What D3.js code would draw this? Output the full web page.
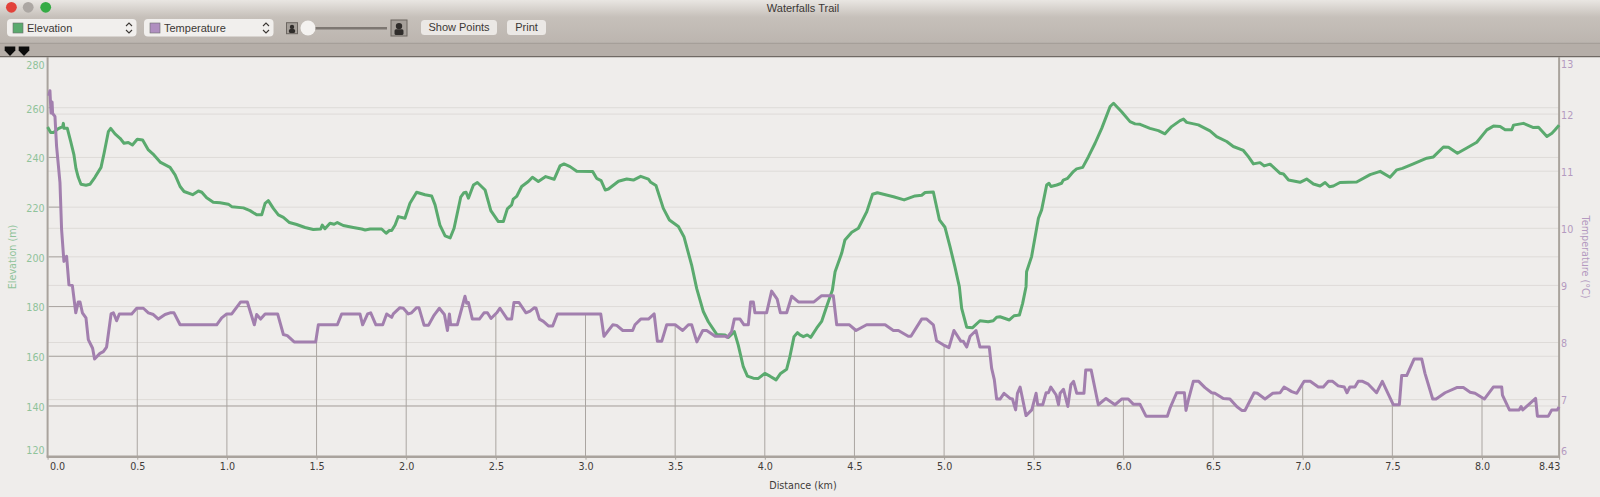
<html><head>
<script src="https://d3js.org/d3.v7.min.js"></script>
<style>
body { margin: 0; background: #efedeb; overflow: hidden; }
text { font-family: "DejaVu Sans", sans-serif; }
.ui { font-family: "Liberation Sans", sans-serif; font-size: 11px; fill: #3c3835; }
</style>
</head>
<body>
<svg id="graph" width="1600" height="497"></svg>
<script>
const distanceTicks = [0, 0.5, 1, 1.5, 2, 2.5, 3, 3.5, 4, 4.5, 5, 5.5, 6, 6.5, 7, 7.5, 8, 8.43];
const distanceLabels = ["0.0", "0.5", "1.0", "1.5", "2.0", "2.5", "3.0", "3.5", "4.0", "4.5", "5.0", "5.5", "6.0", "6.5", "7.0", "7.5", "8.0", "8.43"];
const elevationTicks = [120, 140, 160, 180, 200, 220, 240, 260, 280];
const temperatureTicks = [6, 7, 8, 9, 10, 11, 12, 13];

// [km, metres]
const elevation = [[0,252.2],[0.017,250],[0.032,250],[0.06,251.6],[0.084,252.4],[0.088,253.7],[0.091,251.7],[0.11,251.7],[0.129,246.4],[0.147,241],[0.158,235.6],[0.171,232],[0.186,229.2],[0.214,228.8],[0.236,229.2],[0.264,232],[0.298,236],[0.315,241.7],[0.339,250.4],[0.352,251.7],[0.376,249.5],[0.404,247.7],[0.426,245.7],[0.45,246],[0.473,245],[0.5,247.3],[0.53,247],[0.562,243],[0.593,241],[0.63,238],[0.683,236],[0.711,233],[0.739,228.3],[0.761,226.3],[0.809,225],[0.841,226.5],[0.86,226],[0.887,223.8],[0.924,222],[0.962,221.8],[1.008,221.2],[1.027,220.2],[1.092,219.7],[1.129,218.6],[1.166,216.9],[1.194,216.9],[1.213,221.5],[1.231,222.6],[1.259,219.5],[1.287,216.9],[1.315,215.9],[1.349,213.8],[1.389,213],[1.436,211.8],[1.482,211],[1.523,211.2],[1.532,212.8],[1.547,211.3],[1.575,213.5],[1.598,213.1],[1.616,213.8],[1.649,212.6],[1.705,211.8],[1.752,211.2],[1.771,210.8],[1.799,211.2],[1.863,211.2],[1.888,209.5],[1.906,210.6],[1.919,210.6],[1.938,212.8],[1.956,216.2],
[1.993,215.5],[2.021,221.6],[2.058,226],[2.105,225],[2.142,224.5],[2.161,220.9],[2.188,212.8],[2.217,208.4],[2.245,207.6],[2.267,211.5],[2.304,224],[2.322,225.8],[2.334,226],[2.347,223.6],[2.375,228.9],[2.397,229.9],[2.44,226.9],[2.472,218.6],[2.514,214.2],[2.542,214.2],[2.564,219.3],[2.588,220.9],[2.597,223.2],[2.616,224.3],[2.644,228.3],[2.681,230.3],[2.704,232],[2.737,230.3],[2.778,232.3],[2.825,231.2],[2.858,236.6],[2.88,237.4],[2.914,236.3],[2.951,234.4],[3.04,234.3],[3.062,231.6],[3.087,230.7],[3.11,226.9],[3.128,227.3],[3.184,230.4],[3.23,231.3],[3.267,230.9],[3.308,232.4],[3.351,231.3],[3.364,230],[3.393,228.7],[3.434,219.5],[3.468,214.8],[3.518,212.2],[3.549,208.1],[3.592,196.7],[3.62,187.3],[3.657,178],[3.685,173.9],[3.732,168.8],[3.778,168.6],[3.797,167.6],[3.83,169.9],[3.852,164.5],[3.88,155.8],[3.903,152],[3.936,151.2],[3.964,151.1],[4,153.1],[4.029,152],[4.063,150.5],[4.088,153.1],[4.122,154.8],[4.14,159.9],[4.163,167.9],[4.182,169.5],
[4.196,168.6],[4.215,167.9],[4.237,168.6],[4.256,167.6],[4.289,171.3],[4.317,174],[4.345,180],[4.377,186.7],[4.392,194],[4.429,201.5],[4.447,206.8],[4.485,209.9],[4.522,211.5],[4.569,218.2],[4.601,225.2],[4.628,225.8],[4.718,224.2],[4.777,222.9],[4.838,224.5],[4.875,224.8],[4.894,225.9],[4.94,226.1],[4.974,214.9],[5.005,211.9],[5.033,204.1],[5.06,196.1],[5.085,188],[5.098,179.3],[5.126,171.7],[5.159,171.5],[5.2,174.3],[5.246,173.9],[5.274,174.3],[5.293,175.7],[5.312,175.9],[5.364,174.6],[5.39,176.3],[5.42,176.6],[5.438,181.3],[5.457,188],[5.46,194],[5.488,200.1],[5.526,215.5],[5.544,218.9],[5.572,228.9],[5.585,229.6],[5.596,228.3],[5.628,228.9],[5.655,229.6],[5.665,230.9],[5.689,231.6],[5.721,234.3],[5.739,235.4],[5.773,236],[5.805,240.3],[5.842,245.7],[5.879,251.7],[5.926,260.5],[5.945,261.8],[5.99,258.4],[6.037,254.4],[6.065,253.5],[6.093,253.3],[6.148,251.7],[6.195,250.8],[6.232,249.5],[6.269,252.4],[6.316,254.8],[6.335,255.4],[6.353,254.1],[6.418,253.1],
[6.483,250.7],[6.52,248.4],[6.576,246.4],[6.613,244.4],[6.669,242.8],[6.697,240.3],[6.725,237.4],[6.762,237.9],[6.785,236.6],[6.818,237.3],[6.874,233.6],[6.893,233.3],[6.921,230.9],[6.985,230],[7.022,231.3],[7.06,229.3],[7.097,228.5],[7.125,229.9],[7.149,228.2],[7.171,228.5],[7.208,229.9],[7.301,230.1],[7.376,233.1],[7.432,234.4],[7.487,232],[7.525,235],[7.556,235.6],[7.617,237.4],[7.692,239.7],[7.729,240.2],[7.785,244.2],[7.813,244.1],[7.863,241.7],[7.915,243.8],[7.971,246.1],[8.027,251.1],[8.064,252.6],[8.101,252.4],[8.129,251.1],[8.166,251.1],[8.176,253],[8.231,253.7],[8.287,252],[8.315,252.1],[8.362,248.4],[8.39,249.7],[8.408,251.1],[8.43,253]];

// [km, degrees C]
const temperature = [[0.006,12.32],[0.013,12.41],[0.019,12.02],[0.025,12.21],[0.028,12.01],[0.041,11.96],[0.05,11.44],[0.069,10.8],[0.078,9.98],[0.091,9.42],[0.106,9.51],[0.119,9.01],[0.138,9],[0.157,8.52],[0.171,8.71],[0.181,8.71],[0.194,8.52],[0.214,8.43],[0.227,8.05],[0.251,7.9],[0.262,7.71],[0.292,7.81],[0.311,7.84],[0.329,7.92],[0.354,8.5],[0.367,8.52],[0.385,8.38],[0.4,8.5],[0.469,8.5],[0.497,8.6],[0.534,8.6],[0.562,8.52],[0.59,8.49],[0.618,8.41],[0.655,8.49],[0.683,8.52],[0.705,8.52],[0.739,8.31],[0.943,8.31],[0.971,8.43],[0.999,8.5],[1.027,8.5],[1.077,8.71],[1.114,8.71],[1.153,8.31],[1.166,8.49],[1.188,8.41],[1.213,8.5],[1.283,8.5],[1.315,8.14],[1.337,8.12],[1.375,8.01],[1.495,8.01],[1.51,8.31],[1.616,8.31],[1.64,8.5],[1.742,8.5],[1.757,8.31],[1.785,8.5],[1.802,8.52],[1.831,8.31],[1.869,8.31],[1.891,8.5],[1.919,8.44],[1.928,8.5],
[1.965,8.61],[1.984,8.6],[2.012,8.5],[2.03,8.52],[2.058,8.61],[2.071,8.61],[2.1,8.3],[2.124,8.3],[2.152,8.46],[2.161,8.5],[2.185,8.6],[2.213,8.49],[2.23,8.21],[2.241,8.5],[2.248,8.31],[2.285,8.31],[2.328,8.81],[2.337,8.69],[2.347,8.7],[2.369,8.41],[2.408,8.41],[2.434,8.52],[2.453,8.52],[2.473,8.42],[2.505,8.52],[2.523,8.6],[2.564,8.41],[2.588,8.41],[2.601,8.7],[2.629,8.7],[2.668,8.52],[2.691,8.55],[2.715,8.61],[2.724,8.6],[2.743,8.41],[2.765,8.37],[2.793,8.29],[2.817,8.29],[2.843,8.5],[3.085,8.5],[3.103,8.11],[3.152,8.31],[3.174,8.3],[3.208,8.21],[3.263,8.21],[3.276,8.31],[3.308,8.41],[3.351,8.41],[3.383,8.5],[3.401,8.02],[3.425,8.02],[3.453,8.31],[3.5,8.31],[3.542,8.21],[3.574,8.31],[3.592,8.31],[3.621,8.01],[3.654,8.21],[3.676,8.21],[3.723,8.11],[3.778,8.11],[3.791,8.09],[3.815,8.19],[3.83,8.41],[3.862,8.41],[3.884,8.31],[3.908,8.31],[3.921,8.71],[3.936,8.71],[3.945,8.52],[4.01,8.52],[4.038,8.9],[4.069,8.76],[4.087,8.52],[4.122,8.52],[4.15,8.81],[4.187,8.71],
[4.274,8.71],[4.317,8.82],[4.382,8.82],[4.401,8.31],[4.472,8.31],[4.509,8.21],[4.568,8.31],[4.671,8.31],[4.717,8.21],[4.745,8.21],[4.8,8.11],[4.815,8.11],[4.875,8.41],[4.903,8.41],[4.94,8.31],[4.958,8.03],[4.995,7.96],[5.027,7.91],[5.055,8.21],[5.094,8.02],[5.107,8.02],[5.126,7.92],[5.145,8.11],[5.178,8.21],[5.2,7.92],[5.252,7.92],[5.265,7.55],[5.28,7.35],[5.293,7.01],[5.312,7.01],[5.334,7.11],[5.368,7.02],[5.381,7.01],[5.399,6.82],[5.409,7.11],[5.424,7.22],[5.457,6.72],[5.489,6.82],[5.513,7.11],[5.522,6.91],[5.55,6.91],[5.569,7.12],[5.582,7.12],[5.595,7.22],[5.625,7.08],[5.638,6.91],[5.647,7.11],[5.666,7.18],[5.69,6.88],[5.707,7.26],[5.722,7.32],[5.74,7.11],[5.78,7.11],[5.79,7.52],[5.82,7.52],[5.86,6.91],[5.903,7.02],[5.953,6.91],[5.99,7.01],[6.027,7.01],[6.055,6.92],[6.092,6.92],[6.126,6.71],[6.245,6.71],[6.26,6.85],[6.297,7.12],[6.34,7.12],[6.349,6.81],[6.362,6.99],[6.39,7.32],[6.42,7.32],[6.455,7.21],[6.492,7.12],[6.51,7.11],[6.557,7.02],[6.594,7.01],[6.632,6.88],[6.66,6.81],[6.678,6.81],[6.729,7.12],[6.747,7.11],[6.79,7.01],[6.833,7.11],[6.874,7.12],[6.896,7.22],[6.939,7.14],[6.967,7.11],[7.008,7.32],[7.042,7.32],[7.087,7.22],[7.115,7.22],[7.143,7.32],[7.167,7.32],[7.198,7.24],[7.232,7.22],[7.247,7.12],[7.263,7.22],[7.291,7.22],[7.31,7.32],[7.334,7.32],[7.366,7.27],[7.412,7.12],[7.444,7.32],[7.505,6.91],[7.539,6.91],[7.552,7.42],[7.58,7.42],[7.621,7.71],[7.664,7.71],[7.682,7.46],[7.725,7.01],[7.744,7.01],[7.794,7.12],[7.859,7.21],[7.896,7.21],[7.934,7.13],[7.961,7.11],[8.013,7.01],[8.063,7.22],[8.11,7.22],[8.114,7.08],[8.153,6.82],[8.207,6.82],[8.218,6.88],[8.227,6.82],[8.299,7.02],[8.309,6.71],[8.37,6.71],[8.389,6.82],[8.42,6.82],[8.43,6.87]];

const svg = d3.select("#graph");
const green = "#5aaa6e", purple = "#a27fae";
const gridLight = "#dedbd8", gridDark = "#aaa5a1", axisColor = "#a9a39d";

const x = d3.scaleLinear().domain([0, 8.43]).range([47.6, 1559.1]);
const yElev = d3.scaleLinear().domain([120, 280]).range([455.7, 58]);
const yTemp = d3.scaleLinear().domain([6, 13]).range([456.7, 57]);

// window chrome
const defs = svg.append("defs");
const grad = defs.append("linearGradient").attr("id", "bar").attr("x1", 0).attr("x2", 0).attr("y1", 0).attr("y2", 1);
grad.append("stop").attr("offset", 0).attr("stop-color", "#e9e6e2");
grad.append("stop").attr("offset", 0.3).attr("stop-color", "#c6c0ba");
grad.append("stop").attr("offset", 1).attr("stop-color", "#b6afa9");
svg.append("rect").attr("width", 1600).attr("height", 57).attr("fill", "url(#bar)");
svg.append("line").attr("x1", 0).attr("x2", 1600).attr("y1", 43.3).attr("y2", 43.3).attr("stroke", "#a19a94");
svg.append("rect").attr("y", 44).attr("width", 1600).attr("height", 13).attr("fill", "#b5aea8");
svg.append("rect").attr("y", 56).attr("width", 1600).attr("height", 1.5).attr("fill", "#6f6964");
svg.append("rect").attr("y", 57.5).attr("width", 1600).attr("height", 440).attr("fill", "#efedeb");

svg.append("text").attr("class", "ui").attr("x", 803).attr("y", 12).attr("text-anchor", "middle").text("Waterfalls Trail");
[[11.4, "#e2423a"], [28.2, "#aca7a3"], [45.7, "#35ab45"]].forEach(d => {
    svg.append("circle").attr("cx", d[0]).attr("cy", 7.3).attr("r", 5.4).attr("fill", d[1]);
});

function popup(left, label, color) {
    svg.append("rect").attr("x", left).attr("y", 19).attr("width", 129.5).attr("height", 17.5).attr("rx", 4).attr("fill", "#f1efed");
    svg.append("rect").attr("x", left + 6).attr("y", 23).attr("width", 10).attr("height", 10).attr("fill", color).attr("stroke", "#6d6d6d").attr("stroke-width", 0.6);
    svg.append("text").attr("class", "ui").attr("x", left + 20).attr("y", 32).text(label);
    svg.append("path").attr("d", `M${left + 119},26 l3,-3 l3,3 M${left + 119},30 l3,3 l3,-3`).attr("fill", "none").attr("stroke", "#3c3835").attr("stroke-width", 1.1);
}
popup(7, "Elevation", green);
popup(144, "Temperature", "#b08fc0");

svg.append("rect").attr("x", 315).attr("y", 27).attr("width", 72).attr("height", 2.5).attr("fill", "#7d7772");
svg.append("circle").attr("cx", 308).attr("cy", 28).attr("r", 7.5).attr("fill", "#f4f2f0");
function icon(left, top, w, h) {
    svg.append("rect").attr("x", left).attr("y", top).attr("width", w).attr("height", h).attr("fill", "#a6a09a").attr("stroke", "#6c6661");
    svg.append("circle").attr("cx", left + w / 2).attr("cy", top + h * 0.38).attr("r", w * 0.2).attr("fill", "#2f2c2a");
    svg.append("rect").attr("x", left + w * 0.22).attr("y", top + h * 0.58).attr("width", w * 0.56).attr("height", h * 0.36).attr("rx", 1.5).attr("fill", "#2f2c2a");
}
icon(286.5, 22.7, 11, 11);
icon(391, 20, 16, 16);

function button(left, w, label) {
    svg.append("rect").attr("x", left).attr("y", 20).attr("width", w).attr("height", 15).attr("rx", 3.5).attr("fill", "#ebe8e5");
    svg.append("text").attr("class", "ui").attr("x", left + w / 2).attr("y", 31).attr("text-anchor", "middle").text(label);
}
button(421, 76, "Show Points");
button(507, 39, "Print");

[10, 24].forEach(cx => {
    svg.append("path").attr("d", `M${cx - 5.3},46.5 h10.6 v4 l-5.3,5.5 l-5.3,-5.5 z`).attr("fill", "#0c0c0c");
});

// light grid over the whole plot
const grid = svg.append("g");
grid.selectAll(".t").data(temperatureTicks.slice(1, -1)).join("line").attr("class", "t")
    .attr("x1", x(0)).attr("x2", x(8.43)).attr("y1", d => yTemp(d)).attr("y2", d => yTemp(d))
    .attr("stroke", gridLight);
grid.selectAll(".e").data(elevationTicks.slice(1, -1)).join("line").attr("class", "e")
    .attr("x1", x(0)).attr("x2", x(8.43)).attr("y1", d => yElev(d)).attr("y2", d => yElev(d))
    .attr("stroke", gridLight);

// darker grid, only below the temperature line
defs.append("clipPath").attr("id", "under").append("path")
    .attr("d", d3.area().x(d => x(d[0])).y0(yTemp(6)).y1(d => yTemp(d[1]))(temperature));
const dark = svg.append("g").attr("clip-path", "url(#under)");
dark.selectAll(".e").data(elevationTicks.slice(1, -1)).join("line").attr("class", "e")
    .attr("x1", x(0)).attr("x2", x(8.43)).attr("y1", d => yElev(d)).attr("y2", d => yElev(d))
    .attr("stroke", gridDark);
dark.selectAll(".v").data(distanceTicks.slice(1, -1)).join("line").attr("class", "v")
    .attr("x1", d => x(d)).attr("x2", d => x(d)).attr("y1", yTemp(13)).attr("y2", yTemp(6))
    .attr("stroke", gridDark);

// axes
const axisBottom = d3.axisBottom(x).tickValues(distanceTicks).tickFormat((d, i) => distanceLabels[i]).tickSize(3).tickPadding(3);
const gx = svg.append("g").attr("transform", `translate(0,${yTemp(6)})`).call(axisBottom);
gx.selectAll("text").attr("font-size", 9.6).attr("fill", "#3f3c3a")
    .attr("dx", (d, i) => i === 0 ? 9.5 : (i === distanceTicks.length - 1 ? -10 : 0));
gx.selectAll("line").attr("stroke", axisColor);
gx.select(".domain").remove();

const gl = svg.append("g").attr("transform", `translate(${x(0)},0)`).call(d3.axisLeft(yElev).tickValues(elevationTicks).tickSize(0).tickPadding(3));
gl.selectAll("text").attr("font-size", 9.6).attr("fill", "#8fc39a")
    .attr("dy", d => d === 280 ? "1.05em" : d === 120 ? "-0.25em" : "0.45em");
gl.select(".domain").remove();

const gr = svg.append("g").attr("transform", `translate(${x(8.43)},0)`).call(d3.axisRight(yTemp).tickValues(temperatureTicks).tickFormat(d3.format("d")).tickSize(0).tickPadding(2));
gr.selectAll("text").attr("font-size", 9.6).attr("fill", "#b49ac0")
    .attr("dy", d => d === 13 ? "1.05em" : d === 6 ? "-0.25em" : "0.45em");
gr.select(".domain").remove();

svg.append("line").attr("x1", x(0)).attr("x2", x(0)).attr("y1", 57).attr("y2", yTemp(6)).attr("stroke", axisColor).attr("stroke-width", 2);
svg.append("line").attr("x1", x(8.43)).attr("x2", x(8.43)).attr("y1", 57).attr("y2", yTemp(6)).attr("stroke", axisColor).attr("stroke-width", 2);
svg.append("line").attr("x1", x(0) - 1).attr("x2", x(8.43) + 1).attr("y1", yTemp(6)).attr("y2", yTemp(6)).attr("stroke", axisColor).attr("stroke-width", 2.5);

svg.append("text").attr("x", 803).attr("y", 489).attr("text-anchor", "middle").attr("font-size", 9.6).attr("fill", "#3f3c3a").text("Distance (km)");
svg.append("text").attr("transform", "translate(15.5,257) rotate(-90)").attr("text-anchor", "middle").attr("font-size", 9.6).attr("fill", "#8fc39a").text("Elevation (m)");
svg.append("text").attr("transform", "translate(1582,257) rotate(90)").attr("text-anchor", "middle").attr("font-size", 9.6).attr("fill", "#b49ac0").text("Temperature (°C)");

// series
svg.append("path").datum(elevation).attr("fill", "none").attr("stroke", green).attr("stroke-width", 3).attr("stroke-linejoin", "round")
    .attr("d", d3.line().x(d => x(d[0])).y(d => yElev(d[1])));
svg.append("path").datum(temperature).attr("fill", "none").attr("stroke", purple).attr("stroke-width", 3).attr("stroke-linejoin", "round")
    .attr("d", d3.line().x(d => x(d[0])).y(d => yTemp(d[1])));
</script>
</body>
</html>
